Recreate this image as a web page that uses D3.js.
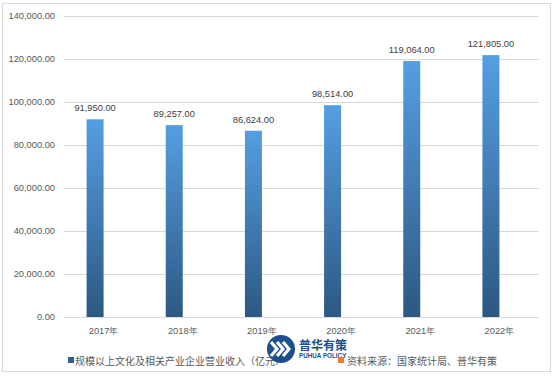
<html>
<head>
<meta charset="utf-8">
<script src="https://d3js.org/d3.v7.min.js"></script>
<style>
body { margin: 0; background: #fff; }
svg { display: block; }
</style>
</head>
<body>
<div id="chart"></div>
<script>
// data
var years = ["2017年", "2018年", "2019年", "2020年", "2021年", "2022年"];
var revenue = [91950, 89257, 86624, 98514, 119064, 121805];
var yTicks = [0, 20000, 40000, 60000, 80000, 100000, 120000, 140000];
var seriesNames = ["规模以上文化及相关产业企业营业收入（亿元）", "资料来源：国家统计局、普华有策"];

var W = 554, H = 376;
var svg = d3.select("#chart").append("svg")
  .attr("width", W).attr("height", H);

var defs = svg.append("defs");
var grad = defs.append("linearGradient")
  .attr("id", "barGrad")
  .attr("x1", 0).attr("y1", 0).attr("x2", 0).attr("y2", 1);
grad.append("stop").attr("offset", "0%").attr("stop-color", "#559ee2");
grad.append("stop").attr("offset", "100%").attr("stop-color", "#2c5882");

// outer frame
svg.append("rect")
  .attr("x", 2.5).attr("y", 3.5).attr("width", 548).attr("height", 368)
  .attr("fill", "#fff").attr("stroke", "#d9d9d9");

var margin = {left: 64, right: 15, top: 16, bottom: 59};
var x = d3.scaleBand().domain(years).range([margin.left, W - margin.right]);
var y = d3.scaleLinear().domain([0, 140000]).range([H - margin.bottom, margin.top]);
var bw = x.bandwidth();
// two series, second one empty (source note) -> bars shifted left
var x1 = d3.scaleBand().domain([0, 1]).range([bw / 2 - 17, bw / 2 + 17]);

var fmt = d3.format(",.2f");
var font = "'Liberation Sans', Arial, sans-serif";

// gridlines
svg.append("g").selectAll("line")
  .data(yTicks)
  .join("line")
  .attr("x1", margin.left).attr("x2", W - margin.right)
  .attr("y1", function(d) { return Math.round(y(d)) + 0.5; })
  .attr("y2", function(d) { return Math.round(y(d)) + 0.5; })
  .attr("stroke", "#d9d9d9");

// y axis labels
var yAxis = svg.append("g")
  .attr("transform", "translate(" + margin.left + ",0)")
  .call(d3.axisLeft(y).tickValues(yTicks).tickFormat(fmt).tickSize(0).tickPadding(9));
yAxis.select(".domain").remove();
yAxis.selectAll("text")
  .attr("fill", "#595959").style("font-family", font).style("font-size", "9.3px");

// x axis labels
var xAxis = svg.append("g")
  .attr("transform", "translate(0," + y(0) + ")")
  .call(d3.axisBottom(x).tickSize(0).tickPadding(10));
xAxis.select(".domain").remove();
xAxis.selectAll("text")
  .attr("fill", "#595959").style("font-family", font).style("font-size", "9.3px");

// bars
svg.append("g").selectAll("rect")
  .data(revenue)
  .join("rect")
  .attr("x", function(d, i) { return x(years[i]) + x1(0); })
  .attr("width", x1.bandwidth())
  .attr("y", function(d) { return y(d); })
  .attr("height", function(d) { return y(0) - y(d); })
  .attr("fill", "url(#barGrad)");

// value labels
svg.append("g").selectAll("text")
  .data(revenue)
  .join("text")
  .attr("x", function(d, i) { return x(years[i]) + x1(0) + x1.bandwidth() / 2; })
  .attr("y", function(d) { return y(d) - 8; })
  .attr("text-anchor", "middle")
  .attr("fill", "#404040")
  .style("font-family", font).style("font-size", "9.3px")
  .text(function(d) { return fmt(d); });

// legend, first entry
var cjk = "'Noto Sans CJK SC', sans-serif";
svg.append("rect").attr("x", 68).attr("y", 357).attr("width", 6).attr("height", 6).attr("fill", "#2e5f8f");
svg.append("text").attr("x", 75).attr("y", 365)
  .attr("fill", "#595959").style("font-family", cjk).style("font-size", "10px")
  .text(seriesNames[0]);

// watermark logo
var logo = svg.append("g").attr("transform", "translate(281,349)");
logo.append("circle").attr("r", 14).attr("fill", "#1d4f8c");
[-7, -1, 5].forEach(function(dx) {
  logo.append("path")
    .attr("d", "M" + (dx - 3) + ",-7 L" + (dx + 3) + ",0 L" + (dx - 3) + ",7")
    .attr("fill", "none").attr("stroke", "#fff").attr("stroke-width", 3.2)
    .attr("stroke-linejoin", "miter");
});
svg.append("text").attr("x", 299).attr("y", 350)
  .attr("fill", "#1d4f8c").style("font-family", cjk).style("font-size", "12px").style("font-weight", "bold")
  .text("普华有策");
svg.append("text").attr("x", 299).attr("y", 358)
  .attr("fill", "#1d4f8c").style("font-family", font).style("font-size", "6.3px").style("font-weight", "bold")
  .text("PUHUA POLICY");

// legend, second entry (drawn over the logo)
svg.append("rect").attr("x", 338).attr("y", 357).attr("width", 6).attr("height", 6).attr("fill", "#ed7d31");
svg.append("text").attr("x", 347).attr("y", 365)
  .attr("fill", "#595959").style("font-family", cjk).style("font-size", "10px")
  .text(seriesNames[1]);
</script>
</body>
</html>
